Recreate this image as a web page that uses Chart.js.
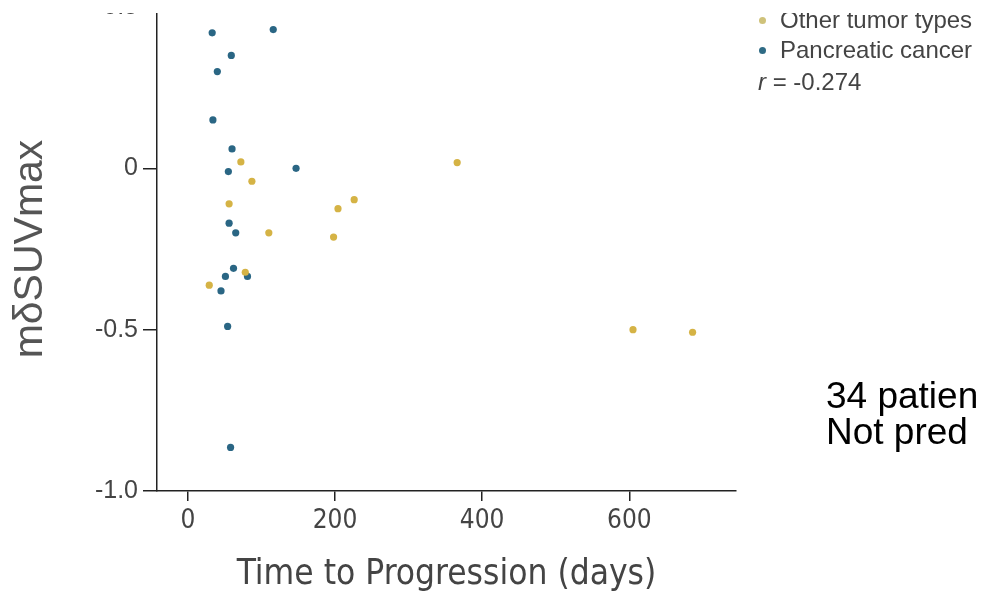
<!DOCTYPE html>
<html>
<head>
<meta charset="utf-8">
<script src="https://cdn.jsdelivr.net/npm/chart.js@4.4.1/dist/chart.umd.min.js"></script>
<style>
html,body{margin:0;padding:0;background:#fff;width:988px;height:599px;overflow:hidden;position:relative;font-family:'Liberation Sans',Arial,sans-serif}
#crop{position:absolute;left:0;top:13px;width:988px;height:586px;overflow:hidden;background:#fff}
#wrap{position:absolute;left:0;top:-13px;width:988px;height:599px}
#wrap canvas{position:absolute;left:0;top:-13px}
.leg{position:absolute;left:780px;font-size:24px;color:#444;white-space:nowrap;line-height:24px}
.dot{position:absolute;width:7px;height:7px;border-radius:50%}
.note{position:absolute;left:826px;font-size:37px;color:#000;white-space:nowrap;line-height:36px}
</style>
</head>
<body>
<div id="crop">
  <div id="wrap">
    <canvas id="c" width="988" height="612"></canvas>
    <div class="dot" style="left:759px;top:17px;background:#cfc27a"></div>
    <div class="leg" style="top:8px">Other tumor types</div>
    <div class="dot" style="left:759px;top:47px;background:#2f6b85"></div>
    <div class="leg" style="top:38px">Pancreatic cancer</div>
    <div class="leg" style="left:758px;top:70px"><i>r</i> = -0.274</div>
  </div>
</div>
<div class="note" style="top:378px">34 patien</div>
<div class="note" style="top:414px">Not pred</div>
<script>
// Data
const pancreaticX = [33, 116, 59, 40, 34, 60, 55, 147, 56, 65, 62, 51, 81, 45, 54, 58];
const pancreaticY = [0.42, 0.43, 0.35, 0.30, 0.15, 0.06, -0.01, 0.00, -0.17, -0.20, -0.31, -0.335, -0.335, -0.38, -0.49, -0.865];
const otherX = [72, 87, 56, 204, 226, 110, 198, 78, 29, 366, 605, 686];
const otherY = [0.02, -0.04, -0.11, -0.125, -0.097, -0.20, -0.213, -0.322, -0.362, 0.018, -0.50, -0.508];
const xTicks = [0, 200, 400, 600];
const yTicks = [-1.0, -0.5, 0, 0.5];
const yTickLabels = ['-1.0', '-0.5', '0', '0.5'];

const toPts = (xs, ys) => xs.map((x, i) => ({x: x, y: ys[i]}));
const narrow = "'Liberation Sans Narrow','DejaVu Sans Condensed','Arial Narrow','Roboto Condensed',Roboto,sans-serif";

new Chart(document.getElementById('c'), {
  type: 'scatter',
  data: {
    datasets: [
      {label: 'Other tumor types', data: toPts(otherX, otherY), backgroundColor: '#d5b345', pointRadius: 3.6, borderWidth: 0},
      {label: 'Pancreatic cancer', data: toPts(pancreaticX, pancreaticY), backgroundColor: '#2a6684', pointRadius: 3.6, borderWidth: 0}
    ]
  },
  options: {
    responsive: false,
    animation: false,
    events: [],
    layout: {padding: {top: 7, right: 252, left: 0, bottom: 0}},
    plugins: {legend: {display: false}, tooltip: {enabled: false}},
    scales: {
      x: {
        type: 'linear', min: -42, max: 745,
        afterBuildTicks: s => { s.ticks = xTicks.map(v => ({value: v})); },
        afterFit: s => { s.height = 108; },
        grid: {drawOnChartArea: false, drawTicks: true, tickLength: 10, color: '#222', lineWidth: 1.5},
        border: {display: true, color: '#222', width: 1.5},
        ticks: {font: {family: narrow, size: 26}, color: '#444', padding: 5},
        title: {display: true, text: 'Time to Progression (days)', font: {family: narrow, size: 35}, color: '#444', padding: {top: 0, bottom: 3}}
      },
      y: {
        type: 'linear', min: -1, max: 0.5,
        afterBuildTicks: s => { s.ticks = yTicks.map(v => ({value: v})); },
        afterFit: s => { s.width = 157; },
        grid: {drawOnChartArea: false, drawTicks: true, tickLength: 14, color: '#222', lineWidth: 1.5},
        border: {display: true, color: '#222', width: 1.5},
        ticks: {font: {family: "'Liberation Sans',Arial,sans-serif", size: 25}, color: '#444', padding: 5,
          callback: (v) => { const i = yTicks.indexOf(v); return i >= 0 ? yTickLabels[i] : ''; }},
        title: {display: true, text: 'mδSUVmax', font: {family: "'Liberation Sans',Arial,sans-serif", size: 41}, color: '#555', padding: {top: 6, bottom: 0}}
      }
    }
  }
});
</script>
</body>
</html>
